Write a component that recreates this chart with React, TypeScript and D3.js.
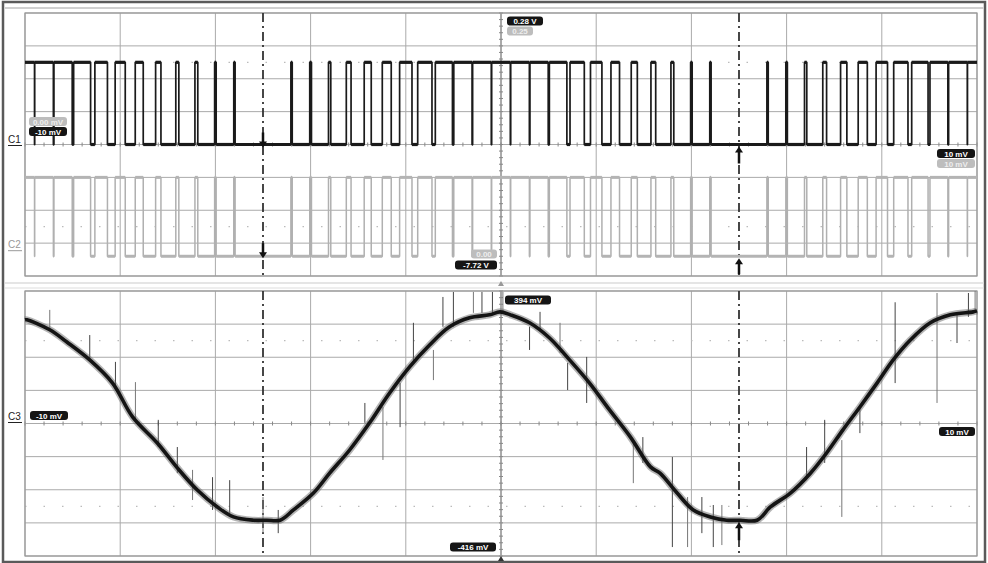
import React from "react";
import * as d3 from "d3";

// ---- data (divisions) ----
// carrier period of the PWM, in divisions
const carrier = 0.2;
// high-time of each carrier period (fraction of period), pulse k centred at k*carrier
const c1Duty = [
  1.0, 0.98, 0.96, 0.89, 0.66, 0.53, 0.42, 0.28, 0.16, 0.15, 0.08, 0.07, 0, 0,
  0.07, 0.09, 0.12, 0.25, 0.37, 0.47, 0.65, 0.75, 0.9, 0.96, 0.98, 0.98, 0.98,
  0.96, 0.92, 0.75, 0.6, 0.45, 0.32, 0.25, 0.15, 0.08, 0.07, 0, 0, 0.07, 0.08,
  0.12, 0.2, 0.33, 0.48, 0.6, 0.75, 0.86, 0.94, 0.98, 1.0,
];
const c1Levels = [0, 2.5];
const c2Levels = [-3.4, -1.0];

// C3 (bottom), sampled along the trace
const c3Time = [
  0, 0.02, 0.26, 0.44, 0.68, 0.92, 1.13, 1.39, 1.6, 1.81, 2.02, 2.19, 2.4, 2.54,
  2.68, 2.82, 3.03, 3.2, 3.41, 3.62, 3.83, 4.04, 4.25, 4.46, 4.67, 4.88, 4.99,
  5.1, 5.3, 5.51, 5.72, 5.93, 6.14, 6.36, 6.57, 6.67, 6.85, 7.02, 7.2, 7.37,
  7.51, 7.69, 7.83, 8.04, 8.25, 8.42, 8.59, 8.77, 8.95, 9.12, 9.3, 9.51, 9.72,
  9.96, 10,
];
const c3Level = [
  3.13, 3.13, 2.83, 2.46, 1.92, 1.22, 0.2, -0.59, -1.34, -2.01, -2.52, -2.82,
  -2.92, -2.92, -2.92, -2.61, -2.1, -1.5, -0.8, 0.02, 0.92, 1.71, 2.37, 2.92,
  3.19, 3.28, 3.37, 3.28, 3.04, 2.58, 1.92, 1.22, 0.41, -0.41, -1.31, -1.5,
  -2.1, -2.61, -2.82, -2.92, -2.92, -2.92, -2.52, -2.1, -1.5, -0.89, -0.2, 0.5,
  1.22, 1.92, 2.52, 3.04, 3.28, 3.37, 3.4,
];
// glitches on C3: [time, from, to]
const c3Spikes = [
  [0.26, 3.43, 2.83], [0.68, 2.67, 1.92], [0.95, 1.86, 1.16], [1.16, 1.25, 0.11],
  [1.4, 0.11, -0.71], [1.6, -0.71, -1.5], [1.76, -1.4, -2.31], [1.97, -1.62, -2.61],
  [2.15, -1.71, -2.7], [2.5, -2.22, -3.31], [2.66, -2.61, -3.31], [3.57, 0.62, 0.02],
  [3.76, 0.5, -1.1], [3.94, 1.22, -0.11], [4.08, 3.04, 1.83], [4.29, 2.22, 1.31],
  [4.39, 3.82, 2.92], [4.5, 3.97, 2.92], [4.71, 3.97, 3.34], [4.8, 3.97, 3.34],
  [4.91, 3.97, 3.34], [5.02, 3.97, 3.34], [5.3, 2.92, 2.22], [5.41, 3.37, 2.83],
  [5.62, 3.04, 2.13], [5.7, 1.83, 1.01], [5.9, 2.01, 0.62], [6.39, -0.5, -1.8],
  [6.49, -0.41, -1.19], [6.8, -1.01, -3.73], [6.96, -2.22, -3.73], [7.11, -2.22, -3.31],
  [7.23, -2.46, -3.73], [7.32, -2.46, -3.67], [8.21, -0.71, -1.71], [8.4, 0.11, -1.19],
  [8.58, -0.5, -2.82], [8.77, 0.5, -0.29], [9.14, 3.66, 1.22], [9.58, 3.94, 0.62],
  [9.79, 3.34, 2.43], [9.91, 3.94, 3.22], [9.98, 4.0, 3.34],
];
const cursors = [2.5, 7.5];

const xDiv = d3.range(0, 11);
const yDiv = d3.range(-4, 5);

const x = d3.scaleLinear().domain([0, 10]).range([25, 977]);
const yTop = d3.scaleLinear().domain([-4, 4]).range([276, 13]);
const yBot = d3.scaleLinear().domain([-4, 4]).range([556, 291]);

// edges of every high pulse, clipped to the screen
function pulses(duty: number[]) {
  const out: [number, number][] = [];
  duty.forEach((d, k) => {
    if (d <= 0) return;
    const c = k * carrier;
    out.push([Math.max(0, c - (d * carrier) / 2), Math.min(10, c + (d * carrier) / 2)]);
  });
  return out;
}

function pwmPoints(duty: number[], lo: number, hi: number) {
  const pts: [number, number][] = [];
  pulses(duty).forEach(([a, b]) => {
    if (a > 0) pts.push([a, lo]);
    pts.push([a, hi], [b, hi]);
    if (b < 10) pts.push([b, lo]);
  });
  return pts;
}

// low stretches between pulses
function lows(duty: number[]) {
  const p = pulses(duty);
  const out: [number, number][] = [];
  for (let i = 0; i < p.length - 1; i++) out.push([p[i][1], p[i + 1][0]]);
  return out;
}

function Panel({ y }: { y: d3.ScaleLinear<number, number> }) {
  const minorX = d3.range(0, 10.01, 0.2);
  const minorY = d3.range(-4, 4.01, 0.2);
  return (
    <g>
      {xDiv.map((d) => (
        <line key={"v" + d} x1={x(d)} x2={x(d)} y1={y(-4)} y2={y(4)}
          stroke={d === 5 ? "#555" : "#aaa"} strokeWidth={1} />
      ))}
      {yDiv.map((d) => (
        <line key={"h" + d} x1={x(0)} x2={x(10)} y1={y(d)} y2={y(d)}
          stroke="#aaa" strokeWidth={1} />
      ))}
      {[-2.5, 2.5].map((d) => (
        <line key={"d" + d} x1={x(0)} x2={x(10)} y1={y(d)} y2={y(d)}
          stroke="#bbb" strokeWidth={1.2} strokeDasharray="1.5,17" />
      ))}
      {minorX.map((d) => (
        <line key={"tx" + d} x1={x(d)} x2={x(d)} y1={y(0) - 2} y2={y(0) + 2} stroke="#888" />
      ))}
      {minorY.map((d) => (
        <line key={"ty" + d} x1={x(5) - 2} x2={x(5) + 2} y1={y(d)} y2={y(d)} stroke="#888" />
      ))}
      <rect x={x(0)} y={y(4)} width={x(10) - x(0)} height={y(-4) - y(4)}
        fill="none" stroke="#999" strokeWidth={1.2} />
    </g>
  );
}

function Tag({ cx, cy, w, text, dark = true }: { cx: number; cy: number; w: number; text: string; dark?: boolean }) {
  return (
    <g>
      <rect x={cx - w / 2} y={cy - 4.5} width={w} height={9} rx={3}
        fill={dark ? "#151515" : "#bdbdbd"} />
      <text x={cx} y={cy + 3} textAnchor="middle" fontSize={8} fontWeight="bold"
        fill={dark ? "#fff" : "#eee"} fontFamily="Liberation Sans, Arial">{text}</text>
    </g>
  );
}

function Arrow({ xp, tip, tail }: { xp: number; tip: number; tail: number }) {
  const dir = tip > tail ? 1 : -1;
  return (
    <g>
      <line x1={xp} x2={xp} y1={tail} y2={tip - dir * 4} stroke="#111" strokeWidth={2.5} />
      <path d={`M${xp - 4},${tip - dir * 6}L${xp + 4},${tip - dir * 6}L${xp},${tip}Z`} fill="#111" />
    </g>
  );
}

function Levels({ duty, lo, hi, color, w }: { duty: number[]; lo: number; hi: number; color: string; w: number }) {
  return (
    <g stroke={color} strokeWidth={w}>
      {pulses(duty).map(([a, b], i) => (
        <line key={"h" + i} x1={x(a)} x2={x(b)} y1={yTop(hi)} y2={yTop(hi)} />
      ))}
      {lows(duty).map(([a, b], i) => (
        <line key={"l" + i} x1={x(a)} x2={x(b)} y1={yTop(lo)} y2={yTop(lo)} />
      ))}
    </g>
  );
}

export default function App() {
  const c1 = d3.line<[number, number]>().x((d) => x(d[0])).y((d) => yTop(d[1]));
  const c1Path = c1(pwmPoints(c1Duty, c1Levels[0], c1Levels[1])) || "";
  const c2Path = c1(pwmPoints(c1Duty, c2Levels[0], c2Levels[1])) || "";
  const c3 = d3.line<number>().x((_, i) => x(c3Time[i])).y((d) => yBot(d)).curve(d3.curveCatmullRom);
  const c3Path = c3(c3Level) || "";

  return (
    <svg width={988} height={563} style={{ position: "absolute", left: 0, top: 0, background: "#fff" }}
      fontFamily="Liberation Sans, Arial">
      <rect x={0} y={0} width={988} height={563} fill="#fff" />
      {/* scope frame */}
      <rect x={3} y={2} width={982} height={560} fill="none" stroke="#5a5a5a" strokeWidth={2.5} />
      <line x1={5} x2={984} y1={8} y2={8} stroke="#d0d0d0" strokeWidth={2} />
      <line x1={5} x2={984} y1={283} y2={283} stroke="#ddd" strokeWidth={1.5} />
      <line x1={5} x2={984} y1={288} y2={288} stroke="#ddd" strokeWidth={1} />

      <Panel y={yTop} />
      <Panel y={yBot} />

      {/* cursors */}
      {cursors.map((c) => (
        <g key={c}>
          <line x1={x(c)} x2={x(c)} y1={yTop(4)} y2={yTop(-4)} stroke="#333" strokeWidth={1.8} strokeDasharray="9,4,2,4" />
          <line x1={x(c)} x2={x(c)} y1={yBot(4)} y2={yBot(-4)} stroke="#333" strokeWidth={1.8} strokeDasharray="9,4,2,4" />
        </g>
      ))}

      {/* C2 then C1 */}
      <path d={c2Path} fill="none" stroke="#b0b0b0" strokeWidth={1.5} strokeLinejoin="round" />
      <Levels duty={c1Duty} lo={c2Levels[0]} hi={c2Levels[1]} color="#b4b4b4" w={3} />
      <path d={c1Path} fill="none" stroke="#1a1a1a" strokeWidth={1.7} strokeLinejoin="round" />
      <Levels duty={c1Duty} lo={c1Levels[0]} hi={c1Levels[1]} color="#1a1a1a" w={3.2} />

      {/* C3 */}
      {c3Spikes.map((s, i) => (
        <line key={i} x1={x(s[0])} x2={x(s[0])} y1={yBot(s[1])} y2={yBot(s[2])}
          stroke={i % 3 === 0 ? "#777" : "#444"} strokeWidth={1} />
      ))}
      <path d={c3Path} fill="none" stroke="#6a6a6a" strokeWidth={7} strokeOpacity={0.5} />
      <path d={c3Path} fill="none" stroke="#141414" strokeWidth={3.6} strokeLinejoin="round" />

      {/* cursor arrows */}
      <Arrow xp={x(cursors[0])} tip={yTop(c1Levels[0]) + 3} tail={yTop(c1Levels[0]) - 12} />
      <Arrow xp={x(cursors[0])} tip={yTop(c2Levels[0]) + 2} tail={yTop(c2Levels[0]) - 13} />
      <Arrow xp={x(cursors[1])} tip={yTop(c1Levels[0]) + 2} tail={yTop(c1Levels[0]) + 19} />
      <Arrow xp={x(cursors[1])} tip={yTop(c2Levels[0]) + 2} tail={yTop(c2Levels[0]) + 18} />
      <Arrow xp={x(cursors[1])} tip={yBot(-2.92) + 2} tail={yBot(-2.92) + 20} />

      {/* channel markers */}
      <text x={8} y={yTop(0) - 2} fontSize={10} fill="#222">C1</text>
      <line x1={8} x2={22} y1={yTop(0) + 1} y2={yTop(0) + 1} stroke="#222" />
      <text x={8} y={yTop(-3.2) - 2} fontSize={10} fill="#999">C2</text>
      <line x1={8} x2={22} y1={yTop(-3.2) + 1} y2={yTop(-3.2) + 1} stroke="#999" />
      <text x={8} y={yBot(0) - 4} fontSize={10} fill="#222">C3</text>
      <line x1={8} x2={22} y1={yBot(0) - 1} y2={yBot(0) - 1} stroke="#222" />

      {/* readouts */}
      <Tag cx={x(5) + 24} cy={yTop(4) + 8} w={36} text="0.28 V" />
      <Tag cx={x(5) + 19} cy={yTop(4) + 18} w={26} text="0.25" dark={false} />
      <Tag cx={x(0) + 23} cy={yTop(0) - 23} w={38} text="0.00 mV" dark={false} />
      <Tag cx={x(0) + 23} cy={yTop(0) - 13} w={38} text="-10 mV" />
      <Tag cx={x(10) - 21} cy={yTop(0) + 9} w={38} text="10 mV" />
      <Tag cx={x(10) - 21} cy={yTop(0) + 19} w={38} text="10 mV" dark={false} />
      <Tag cx={x(5) - 17} cy={yTop(-4) - 22} w={26} text="0.00" dark={false} />
      <Tag cx={x(5) - 25} cy={yTop(-4) - 11} w={42} text="-7.72 V" />
      <Tag cx={x(5) + 27} cy={yBot(4) + 9} w={46} text="394 mV" />
      <Tag cx={x(0) + 24} cy={yBot(0) - 8} w={38} text="-10 mV" />
      <Tag cx={x(10) - 20} cy={yBot(0) + 8} w={36} text="10 mV" />
      <Tag cx={x(5) - 28} cy={yBot(-4) - 9} w={46} text="-416 mV" />

      {/* trigger/position markers */}
      <path d={`M${x(5) - 3},${286}L${x(5) + 3},${286}L${x(5)},${281}Z`} fill="#999" />
      <path d={`M${x(5) - 3},${561}L${x(5) + 3},${561}L${x(5)},${556}Z`} fill="#333" />
    </svg>
  );
}
